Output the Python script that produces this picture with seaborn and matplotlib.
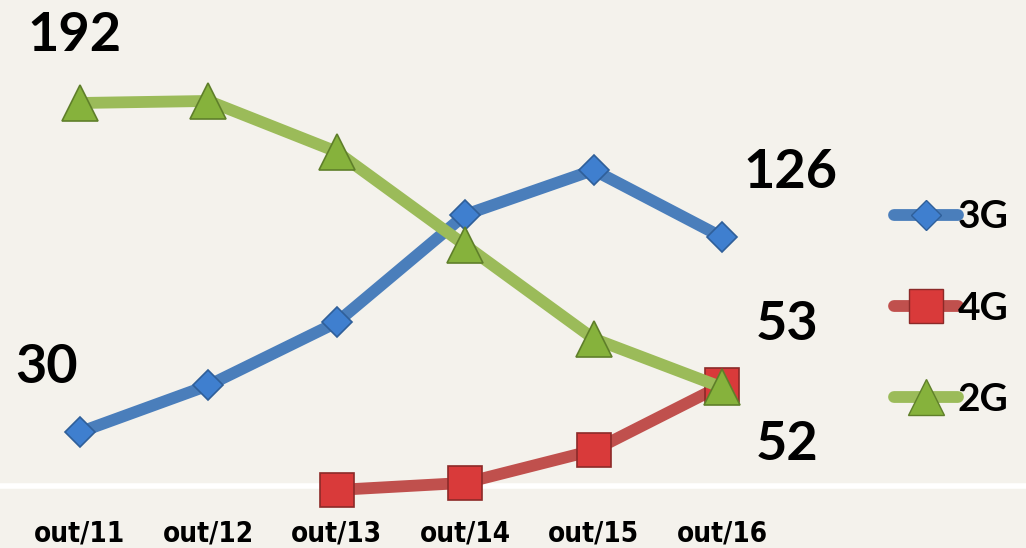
import matplotlib
matplotlib.use("Agg")
import matplotlib.pyplot as plt
import seaborn as sns
import pandas as pd
from matplotlib.lines import Line2D

months = ["out/11", "out/12", "out/13", "out/14", "out/15", "out/16"]
g3 = [30, 53, 84, 137, 159, 126]
g4 = [None, None, 1.5, 5, 21, 53]
g2 = [192, 193, 168, 122, 76, 52]

end_labels = {"3G": 126, "4G": 53, "2G": 52}

series = {
    "4G": dict(vals=g4, line="#c0504d", face="#d93a3a", edge="#8c2a28", marker="s", ms=24),
    "3G": dict(vals=g3, line="#4a7ebb", face="#3f7fcf", edge="#2f5f99", marker="D", ms=15),
    "2G": dict(vals=g2, line="#9bbb59", face="#86b23c", edge="#5f7f2a", marker="^", ms=26),
}

rows = []
for name, s in series.items():
    for i, v in enumerate(s["vals"]):
        if v is not None:
            rows.append({"idx": i, "value": v, "tech": name})
df = pd.DataFrame(rows)

sns.set_style("white")
plt.rcParams["font.family"] = ["Lato", "DejaVu Sans"]

fig = plt.figure(figsize=(10.26, 5.48), dpi=100)
fig.patch.set_facecolor("#f4f2ec")
ax = fig.add_axes([0, 62 / 548, 1, 486 / 548])
ax.set_facecolor("none")

for name, s in series.items():
    sns.lineplot(data=df[df["tech"] == name], x="idx", y="value", ax=ax,
                 color=s["line"], linewidth=8.5, marker=s["marker"],
                 markersize=s["ms"], markerfacecolor=s["face"],
                 markeredgecolor=s["edge"], markeredgewidth=1.2,
                 legend=False, clip_on=False)

ax.set_xlim(-0.623, 7.368)
ax.set_ylim(3.45, 242.7)
ax.set_xticks(range(len(months)))
ax.set_xticklabels(months, fontfamily="DejaVu Sans", fontstretch="condensed",
                   fontweight="bold", fontsize=20, color="black")
ax.tick_params(axis="x", length=0, pad=24)
ax.set_yticks([])
ax.set_xlabel("")
ax.set_ylabel("")
for side in ["left", "right", "top"]:
    ax.spines[side].set_visible(False)
ax.spines["bottom"].set_color("white")
ax.spines["bottom"].set_linewidth(4)
ax.spines["bottom"].set_zorder(1)

# value labels
lab_kw = dict(fontsize=39, fontweight="bold", color="black", ha="center", va="center")
ax.text(-0.04, g2[0] + 33, str(g2[0]), **lab_kw)
ax.text(-0.26, g3[0] + 32, str(g3[0]), **lab_kw)
ax.text(5.53, g3[5] + 32, str(end_labels["3G"]), **lab_kw)
ax.text(5.51, g4[5] + 30, str(end_labels["4G"]), **lab_kw)
ax.text(5.51, g2[5] - 28, str(end_labels["2G"]), **lab_kw)

handles = []
labels = []
for name in ["3G", "4G", "2G"]:
    s = series[name]
    handles.append(Line2D([], [], color=s["line"], linewidth=8.5, solid_capstyle="round",
                          marker=s["marker"], markersize=s["ms"],
                          markerfacecolor=s["face"], markeredgecolor=s["edge"]))
    labels.append(name)
leg = ax.legend(handles, labels, loc="center left", bbox_to_anchor=(0.837, 0.366),
                frameon=False, handlelength=1.65, handletextpad=0.0,
                labelspacing=1.45, labelcolor="black",
                prop={"family": "Lato", "weight": "bold", "size": 28})

fig.savefig("out.png", dpi=100, facecolor=fig.get_facecolor())
